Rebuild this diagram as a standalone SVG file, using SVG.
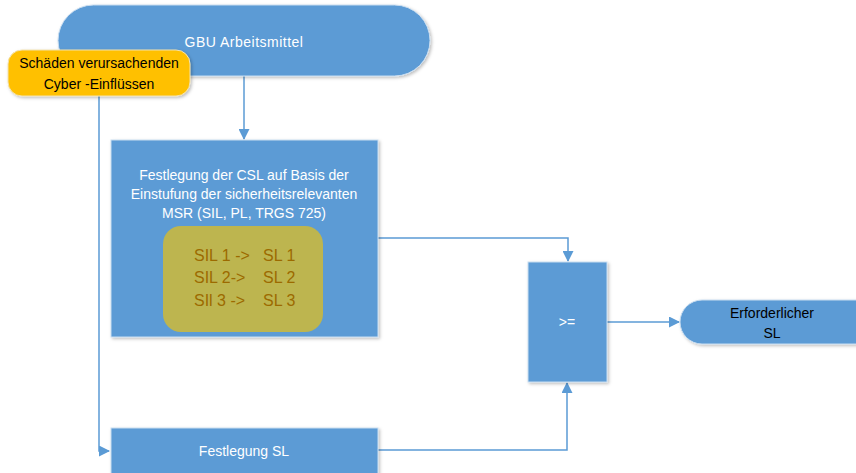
<svg xmlns="http://www.w3.org/2000/svg" width="856" height="473" viewBox="0 0 856 473">
<defs>
<style>
.blue{fill:#5B9BD5;stroke:#C9DDF0;stroke-width:1}
.t{font-family:"Liberation Sans",Arial,sans-serif;font-size:14px;text-anchor:middle}
.w{fill:#FFFFFF}
.k{fill:#000000}
.sil{font-family:"Liberation Sans",Arial,sans-serif;font-size:16px;fill:#9C6A00}
.c{fill:none;stroke:#5B9BD5;stroke-width:1.5}
</style>
<filter id="sh" x="-10%" y="-10%" width="130%" height="130%">
<feDropShadow dx="1.5" dy="1.5" stdDeviation="1.5" flood-color="#000" flood-opacity="0.25"/>
</filter>
<marker id="ah" markerWidth="11" markerHeight="11" refX="10" refY="5.5" orient="auto" markerUnits="userSpaceOnUse">
<path d="M0,0 L11,5.5 L0,11 Z" fill="#5B9BD5"/>
</marker>
</defs>
<rect width="856" height="473" fill="#FFFFFF"/>
<g id="connectors">
<path class="c" d="M244,76 V139" marker-end="url(#ah)"/>
<path class="c" d="M99,96 V451 H109" marker-end="url(#ah)"/>
<path class="c" d="M378,238 H568 V261" marker-end="url(#ah)"/>
<path class="c" d="M378,450 H567 V383" marker-end="url(#ah)"/>
<path class="c" d="M607,322 H679" marker-end="url(#ah)"/>
</g>
<g id="gbu">
<rect class="blue" x="58" y="5" width="372" height="71" rx="35.5" filter="url(#sh)"/>
<text class="t w" x="244" y="47" letter-spacing="0.5">GBU Arbeitsmittel</text>
</g>
<g id="schaeden">
<rect x="8" y="50" width="182" height="46" rx="14" fill="#FFC000" stroke="#F2E2B0" stroke-width="1" filter="url(#sh)"/>
<text class="t k" x="99" y="68">Schäden verursachenden</text>
<text class="t k" x="99" y="89">Cyber -Einflüssen</text>
</g>
<g id="csl">
<rect class="blue" x="111" y="140" width="267" height="197" filter="url(#sh)"/>
<text class="t w" x="244" y="180">Festlegung der CSL auf Basis der</text>
<text class="t w" x="244" y="199">Einstufung der sicherheitsrelevanten</text>
<text class="t w" x="244" y="218">MSR (SIL, PL, TRGS 725)</text>
</g>
<g id="sil">
<rect x="163" y="226" width="160" height="106" rx="18" fill="#BDB54F"/>
<text class="sil" x="194" y="261">SIL 1 -&gt;</text>
<text class="sil" x="263" y="261">SL 1</text>
<text class="sil" x="194" y="283">SIL 2-&gt;</text>
<text class="sil" x="263" y="283">SL 2</text>
<text class="sil" x="194" y="306">SIl 3 -&gt;</text>
<text class="sil" x="263" y="306">SL 3</text>
</g>
<g id="compare">
<rect class="blue" x="528" y="262" width="79" height="120" filter="url(#sh)"/>
<text class="t w" x="567" y="327">&gt;=</text>
</g>
<g id="erforderlich">
<rect class="blue" x="680" y="300" width="200" height="44" rx="22" filter="url(#sh)"/>
<text class="t k" x="772" y="318">Erforderlicher</text>
<text class="t k" x="772" y="338">SL</text>
</g>
<g id="festlegung">
<rect class="blue" x="111" y="428" width="267" height="60" filter="url(#sh)"/>
<text class="t w" x="244" y="456">Festlegung SL</text>
</g>
</svg>
